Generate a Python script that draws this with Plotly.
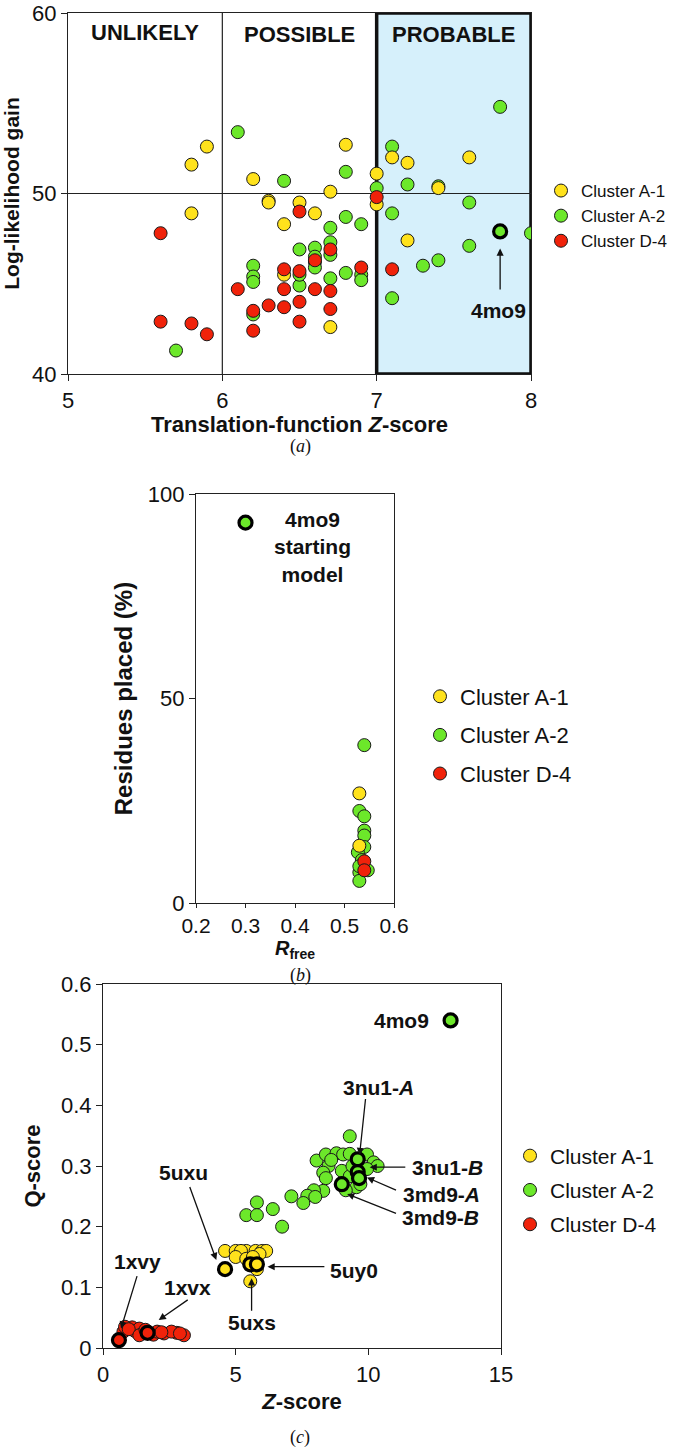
import plotly.graph_objects as go

# ---------------- colours ----------------
YEL = "#FFE21C"
GRN = "#6CE82A"
RED = "#F0220A"
EDGE = "#1a1a1a"

# ---------------- panel (a) data ----------------
a_x_ticks = [5, 6, 7, 8]
a_y_ticks = [40, 50, 60]

a_x_A1 = [5.9, 5.8, 5.8, 6.2, 6.3, 6.3, 6.5, 6.4, 6.6, 6.7, 6.8, 7.0, 7.0, 7.1, 7.2, 7.4, 7.6, 7.2, 6.7, 6.4]
a_y_A1 = [52.6, 51.6, 48.9, 50.8, 49.6, 49.5, 49.5, 48.3, 48.9, 50.1, 52.7, 51.1, 49.4, 52.0, 51.7, 50.3, 52.0, 47.4, 42.6, 45.5]

a_x_A2 = [6.1, 5.7, 6.4, 6.8, 7.1, 7.0, 7.2, 7.4, 7.8, 7.6, 7.1, 6.8, 6.9, 6.7, 8.0, 7.6, 7.3, 7.4, 7.1,
          6.5, 6.6, 6.7, 6.7, 6.6, 6.6, 6.2, 6.2, 6.2, 6.5, 6.7, 6.8, 6.9, 6.9, 6.2, 6.5, 6.6]
a_y_A2 = [53.4, 41.3, 50.7, 51.2, 52.6, 50.3, 50.5, 50.4, 54.8, 49.5, 48.9, 48.7, 48.3, 48.1, 47.8, 47.1, 46.0, 46.3, 44.2,
          46.9, 47.0, 47.3, 46.6, 46.2, 45.9, 46.0, 45.4, 45.1, 44.9, 45.3, 45.6, 45.5, 45.2, 43.3, 45.5, 46.5]
a_x_4mo9 = [7.8]
a_y_4mo9 = [47.9]

a_x_D4 = [5.6, 5.6, 5.8, 5.9, 6.1, 6.2, 6.2, 6.3, 6.4, 6.4, 6.4, 6.5, 6.5, 6.5, 6.5, 6.6, 6.6, 6.7, 6.7, 6.7, 6.9, 7.0, 7.1]
a_y_D4 = [47.8, 42.9, 42.8, 42.2, 44.7, 43.5, 42.4, 43.8, 45.8, 44.7, 43.7, 49.0, 45.7, 44.0, 42.9, 46.3, 44.7, 46.9, 44.6, 43.6, 45.9, 49.8, 45.8]

# ---------------- panel (b) data ----------------
b_x_ticks = [0.2, 0.3, 0.4, 0.5, 0.6]
b_x_labels = ["0.2", "0.3", "0.4", "0.5", "0.6"]
b_y_ticks = [0, 50, 100]

b_x_A1 = [0.530, 0.530]
b_y_A1 = [26.8, 14.0]
b_x_A2 = [0.540, 0.530, 0.540, 0.540, 0.540, 0.540, 0.527, 0.547, 0.530, 0.530, 0.535, 0.530]
b_y_A2 = [38.6, 22.5, 21.2, 17.7, 16.5, 13.7, 12.4, 8.0, 7.5, 5.4, 10.5, 9.0]
b_x_4mo9 = [0.30]
b_y_4mo9 = [93.0]
b_x_D4 = [0.540, 0.540]
b_y_D4 = [10.2, 8.0]

# ---------------- panel (c) data ----------------
c_x_ticks = [0, 5, 10, 15]
c_y_ticks = [0, 0.1, 0.2, 0.3, 0.4, 0.5, 0.6]
c_y_labels = ["0", "0.1", "0.2", "0.3", "0.4", "0.5", "0.6"]

c_x_A1 = [4.6, 5.0, 5.4, 5.75, 6.0, 6.15, 5.2, 5.0, 5.4, 5.55, 5.8, 5.55, 5.9, 5.65]
c_y_A1 = [0.160, 0.160, 0.160, 0.160, 0.160, 0.160, 0.160, 0.150, 0.147, 0.141, 0.130, 0.110, 0.155, 0.150]
c_x_A1_hl = [4.6, 5.55, 5.8]
c_y_A1_hl = [0.130, 0.138, 0.138]

c_x_A2 = [9.3, 8.05, 8.4, 8.8, 9.05, 9.3, 9.95, 10.2, 10.35, 8.5, 8.3, 8.4, 9.0, 9.3, 9.55, 9.15, 8.3, 7.95,
          7.7, 7.55, 7.1, 8.0, 5.4, 5.8, 5.8, 6.4, 6.75, 9.95, 9.7, 8.6, 9.4]
c_y_A2 = [0.349, 0.309, 0.319, 0.321, 0.319, 0.320, 0.319, 0.306, 0.300, 0.300, 0.289, 0.280, 0.292, 0.283, 0.265, 0.260, 0.259, 0.260,
          0.251, 0.239, 0.250, 0.249, 0.219, 0.240, 0.219, 0.229, 0.200, 0.295, 0.270, 0.310, 0.300]
c_x_A2_hl = [13.1, 9.6, 9.6, 9.65, 9.0]
c_y_A2_hl = [0.540, 0.311, 0.290, 0.280, 0.270]

c_x_D4 = [0.77, 1.1, 1.2, 1.37, 1.5, 1.9, 2.3, 2.78, 3.05, 2.04, 2.58, 0.83, 0.97, 1.37, 2.9, 1.6, 2.2]
c_y_D4 = [0.027, 0.034, 0.028, 0.032, 0.024, 0.022, 0.024, 0.025, 0.021, 0.027, 0.027, 0.035, 0.031, 0.021, 0.024, 0.030, 0.026]
c_x_D4_hl = [0.6, 1.68]
c_y_D4_hl = [0.013, 0.025]

# the page body margin is removed (post_script below), so the figure starts at (0, 0)
W, H = 692, 1455
FONT = "Liberation Sans, Arial, sans-serif"

fig = go.Figure()


def pts(xs, ys, color, name, xa, ya, legend, rank, showlegend=True, lw=1.0, lc=EDGE, size=13):
    fig.add_trace(go.Scatter(
        x=xs, y=ys, mode="markers", name=name,
        marker=dict(size=size, color=color, line=dict(color=lc, width=lw)),
        xaxis=xa, yaxis=ya, legend=legend, legendrank=rank,
        legendgroup=legend + name, showlegend=showlegend, hoverinfo="skip"))


# panel a traces
pts(a_x_A2, a_y_A2, GRN, "Cluster A-2", "x", "y", "legend", 2)
pts(a_x_A1, a_y_A1, YEL, "Cluster A-1", "x", "y", "legend", 1)
pts(a_x_D4, a_y_D4, RED, "Cluster D-4", "x", "y", "legend", 3)
pts(a_x_4mo9, a_y_4mo9, GRN, "4mo9", "x", "y", "legend", 4, showlegend=False, lw=3.2, lc="#000")

# panel b traces
pts(b_x_A2, b_y_A2, GRN, "Cluster A-2", "x2", "y2", "legend2", 2)
pts(b_x_A1, b_y_A1, YEL, "Cluster A-1", "x2", "y2", "legend2", 1)
pts(b_x_D4, b_y_D4, RED, "Cluster D-4", "x2", "y2", "legend2", 3)
pts(b_x_4mo9, b_y_4mo9, GRN, "4mo9", "x2", "y2", "legend2", 4, showlegend=False, lw=3.2, lc="#000")

# panel c traces
pts(c_x_A2, c_y_A2, GRN, "Cluster A-2", "x3", "y3", "legend3", 2)
pts(c_x_A1, c_y_A1, YEL, "Cluster A-1", "x3", "y3", "legend3", 1)
pts(c_x_D4, c_y_D4, RED, "Cluster D-4", "x3", "y3", "legend3", 3)
pts(c_x_A2_hl, c_y_A2_hl, GRN, "A-2 hl", "x3", "y3", "legend3", 5, showlegend=False, lw=3.2, lc="#000")
pts(c_x_A1_hl, c_y_A1_hl, YEL, "A-1 hl", "x3", "y3", "legend3", 6, showlegend=False, lw=3.2, lc="#000")
pts(c_x_D4_hl, c_y_D4_hl, RED, "D-4 hl", "x3", "y3", "legend3", 7, showlegend=False, lw=3.2, lc="#000")


def px_x(p):
    return p / W


def px_y(p):
    return 1 - p / H


axc = dict(showgrid=False, zeroline=False, showline=True, linecolor="#222", linewidth=1.2, automargin=False,
           mirror=True, ticks="outside", ticklen=6, tickcolor="#222", tickwidth=1.2,
           ticklabeloverflow="allow")

fig.update_layout(
    width=W, height=H, margin=dict(l=0, r=0, t=0, b=0, autoexpand=False),
    paper_bgcolor="white", plot_bgcolor="rgba(0,0,0,0)",
    font=dict(family=FONT, color="#111"),
    xaxis=dict(axc, domain=[px_x(68), px_x(531)], range=[5, 8], tickvals=a_x_ticks,
               tickfont=dict(size=22), anchor="y",
               title=dict(text="<b>Translation-function <i>Z</i>-score</b>", font=dict(size=22), standoff=0)),
    yaxis=dict(axc, domain=[px_y(374), px_y(13)], range=[40, 60], tickvals=a_y_ticks,
               tickfont=dict(size=22), anchor="x",
               title=dict(text="<b>Log-likelihood gain</b>", font=dict(size=21), standoff=6)),
    xaxis2=dict(axc, domain=[px_x(196), px_x(394)], range=[0.2, 0.6], tickvals=b_x_ticks, ticktext=b_x_labels,
                tickfont=dict(size=21), anchor="y2", ticklen=4,
                title=dict(text="<b><i>R</i></b><sub><b>free</b></sub>", font=dict(size=20), standoff=0)),
    yaxis2=dict(axc, domain=[px_y(903), px_y(494)], range=[0, 100], tickvals=b_y_ticks,
                tickfont=dict(size=22), anchor="x2",
                title=dict(text="<b>Residues placed (%)</b>", font=dict(size=24), standoff=8)),
    xaxis3=dict(axc, domain=[px_x(103), px_x(501)], range=[0, 15], tickvals=c_x_ticks,
                tickfont=dict(size=22), anchor="y3",
                title=dict(text="<b><i>Z</i>-score</b>", font=dict(size=22), standoff=8)),
    yaxis3=dict(axc, domain=[px_y(1348), px_y(984)], range=[0, 0.6], tickvals=c_y_ticks, ticktext=c_y_labels,
                tickfont=dict(size=22), anchor="x3",
                title=dict(text="<b>Q-score</b>", font=dict(size=22), standoff=14)),
    legend=dict(x=px_x(541), y=px_y(216), xanchor="left", yanchor="middle", font=dict(size=17),
                bgcolor="rgba(0,0,0,0)", tracegroupgap=0, itemsizing="trace"),
    legend2=dict(x=px_x(420), y=px_y(735), xanchor="left", yanchor="middle", font=dict(size=22),
                 bgcolor="rgba(0,0,0,0)", tracegroupgap=7, itemsizing="trace"),
    legend3=dict(x=px_x(510), y=px_y(1190), xanchor="left", yanchor="middle", font=dict(size=21),
                 bgcolor="rgba(0,0,0,0)", tracegroupgap=4, itemsizing="trace"),
)

# panel a shapes
fig.add_shape(type="rect", xref="x", yref="y", x0=7, x1=8, y0=40, y1=60,
              fillcolor="#D6F0FB", line=dict(color="#111", width=3.5), layer="below")
fig.add_shape(type="line", xref="x", yref="y", x0=6, x1=6, y0=40, y1=60,
              line=dict(color="#222", width=1.2), layer="below")
fig.add_shape(type="line", xref="x", yref="y", x0=5, x1=8, y0=50, y1=50,
              line=dict(color="#222", width=1.2), layer="below")


def label(text, x, y, xref, yref, size=19):
    fig.add_annotation(x=x, y=y, xref=xref, yref=yref, text=text, showarrow=False,
                       xanchor="center", yanchor="middle",
                       font=dict(size=size, color="#111", family=FONT))


def arrow(tail, head, xref, yref):
    fig.add_annotation(x=head[0], y=head[1], ax=tail[0], ay=tail[1], xref=xref, yref=yref,
                       axref=xref, ayref=yref, text="", showarrow=True, arrowhead=2,
                       arrowsize=1.1, arrowwidth=1.3, arrowcolor="#111", standoff=0)


label("<b>UNLIKELY</b>", 5.5, 58.9, "x", "y", 22)
label("<b>POSSIBLE</b>", 6.5, 58.8, "x", "y", 22)
label("<b>PROBABLE</b>", 7.5, 58.8, "x", "y", 22)
label("<b>4mo9</b>", 7.79, 43.5, "x", "y", 21)
arrow((7.8, 44.6), (7.8, 46.95), "x", "y")

label("<b>4mo9<br>starting<br>model</b>", 0.435, 87, "x2", "y2", 21)

label("<b>4mo9</b>", 11.24, 0.54, "x3", "y3", 21)
label("<b>3nu1-<i>A</i></b>", 10.37, 0.43, "x3", "y3", 21)
label("<b>3nu1-<i>B</i></b>", 13.0, 0.298, "x3", "y3", 21)
label("<b>3md9-<i>A</i></b>", 12.76, 0.253, "x3", "y3", 21)
label("<b>3md9-<i>B</i></b>", 12.73, 0.215, "x3", "y3", 21)
label("<b>5uxu</b>", 3.04, 0.289, "x3", "y3", 21)
label("<b>5uy0</b>", 9.47, 0.127, "x3", "y3", 21)
label("<b>5uxs</b>", 5.6, 0.042, "x3", "y3", 21)
label("<b>1xvy</b>", 1.3, 0.143, "x3", "y3", 21)
label("<b>1xvx</b>", 3.18, 0.100, "x3", "y3", 21)

arrow((9.9, 0.413), (9.67, 0.318), "x3", "y3")
arrow((11.45, 0.298), (10.05, 0.298), "x3", "y3")
arrow((11.1, 0.259), (9.95, 0.281), "x3", "y3")
arrow((11.1, 0.221), (9.2, 0.254), "x3", "y3")
arrow((3.25, 0.268), (4.27, 0.145), "x3", "y3")
arrow((8.4, 0.134), (6.2, 0.134), "x3", "y3")
arrow((5.6, 0.059), (5.6, 0.115), "x3", "y3")
arrow((1.3, 0.121), (0.68, 0.032), "x3", "y3")
arrow((3.25, 0.081), (2.1, 0.046), "x3", "y3")

# captions
for txt, ypx in [("(<i>a</i>)", 446), ("(<i>b</i>)", 976), ("(<i>c</i>)", 1437)]:
    fig.add_annotation(x=px_x(300), y=px_y(ypx), xref="paper", yref="paper", text=txt, showarrow=False,
                       xanchor="center", yanchor="middle",
                       font=dict(size=18, family="Liberation Serif, DejaVu Serif, serif", color="#111"))

fig.write_html("out.html", config={"displayModeBar": False},
               post_script="document.body.style.margin='0';document.body.style.overflow='hidden';")
